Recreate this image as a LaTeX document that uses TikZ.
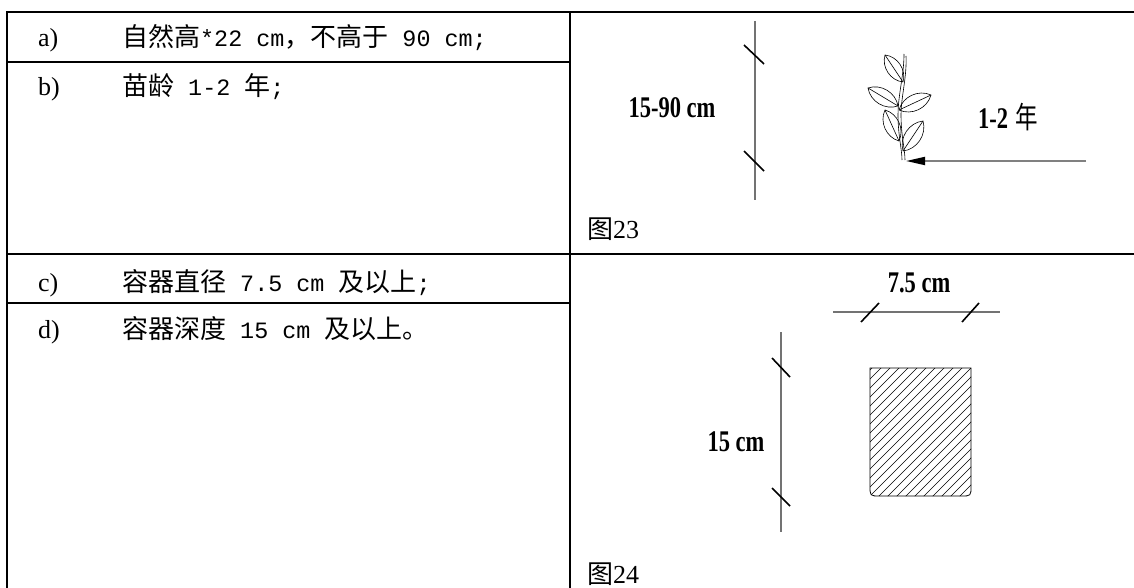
\documentclass[tikz,border=0pt]{standalone}
\usepackage{fontspec}
\usetikzlibrary{arrows.meta}
\setmainfont{Liberation Serif}
\newfontfamily\cjk{Noto Sans CJK SC}
\newfontfamily\mono[Scale=0.9]{Liberation Mono}
\tikzset{
  tline/.style={line width=1.3pt, black},
  lbl/.style={anchor=base west, inner sep=0pt, font=\fontsize{26}{30}\selectfont},
  figlbl/.style={anchor=base west, inner sep=0pt, font=\fontsize{26}{30}\selectfont},
  dimline/.style={line width=1.5pt, black!55},
  tickmark/.style={line width=1.6pt, black},
  dimlbl/.style={inner sep=0pt, font=\fontsize{30}{34}\selectfont\bfseries},
  leafline/.style={line width=0.6pt, draw=black},
  hatchline/.style={line width=0.5pt, black},
  arrline/.style={line width=1.8pt, black!50},
}
\newcommand\leafdraw[2]{\draw[leafline] #1 to[bend left=50] #2 to[bend left=50] #1; \draw[leafline] #1 -- #2;}
\begin{document}
\begin{tikzpicture}[x=1pt,y=-1pt]
\useasboundingbox (0,0) rectangle (1134,588);
% table
\coordinate (tl) at (7,12);
\coordinate (tr) at (1134,12);
\coordinate (bl) at (7,588);
\coordinate (ct) at (570,12);
\coordinate (cb) at (570,588);
\draw[tline] (bl) -- (tl) -- (tr);
\draw[tline] (ct) -- (cb);
\draw[tline] (7,62) -- (570,62);
\draw[tline] (7,254) -- (1134,254);
\draw[tline] (7,303) -- (570,303);
% row texts
\node[lbl] (la) at (38,47) {a)};
\node[lbl] (ta) at (122,47) {{\cjk 自然高}{\mono*22 cm}{\cjk ，不高于}{\mono\ 90 cm;}};
\node[lbl] (lb) at (38,96) {b)};
\node[lbl] (tb) at (122,96) {{\cjk 苗龄}{\mono\ 1-2 }{\cjk 年}{\mono;}};
\node[lbl] (lc) at (38,291) {c)};
\node[lbl] (tc) at (122,291) {{\cjk 容器直径}{\mono\ 7.5 cm }{\cjk 及以上}{\mono;}};
\node[lbl] (ld) at (38,338) {d)};
\node[lbl] (td) at (122,338) {{\cjk 容器深度}{\mono\ 15 cm }{\cjk 及以上。}};
% figure 23
\coordinate (v1t) at (755,21);
\coordinate (v1b) at (755,200);
\draw[dimline] (v1t) -- (v1b);
\draw[tickmark] (744,45) -- (764,64);
\draw[tickmark] (744,151) -- (764,171);
\node[dimlbl] (h1) at (672,108) {\scalebox{0.75}[1]{15-90 cm}};
% plant stem
\draw[leafline] (904,54) .. controls (904,75) and (898,95) .. (898,115) .. controls (898,135) and (902,150) .. (902,160);
\draw[leafline] (906,56) .. controls (907,77) and (901,97) .. (901,115) .. controls (901,135) and (905,150) .. (905,160);
\leafdraw{(903,82)}{(885,55)}
\leafdraw{(898,106)}{(868,88)}
\leafdraw{(899,110)}{(931,95)}
\leafdraw{(899,141)}{(885,110)}
\leafdraw{(903,151)}{(923,121)}
\coordinate (astart) at (1086,161);
\coordinate (aend) at (906,161);
\draw[arrline, -{Triangle[length=19pt,width=8pt,color=black]}] (astart) -- (aend);
\node[dimlbl] (yr) at (1008,117) {\scalebox{0.75}[1]{1-2\,\,{\cjk\mdseries 年}}};
\node[figlbl] (f23) at (587,238) {{\cjk 图}23};
% figure 24
\draw[dimline] (833,312) -- (1000,312);
\draw[tickmark] (861,322) -- (879,303);
\draw[tickmark] (962,322) -- (979,303);
\node[dimlbl] (w) at (919,283) {\scalebox{0.75}[1]{7.5 cm}};
\draw[dimline] (781,332) -- (781,532);
\draw[tickmark] (772,358) -- (790,377);
\draw[tickmark] (772,488) -- (790,506);
\node[dimlbl] (d15) at (736,442) {\scalebox{0.75}[1]{15 cm}};
\begin{scope}
\clip (870,368) -- (971,368) -- (971,486) .. controls (971,496) .. (961,496) -- (880,496) .. controls (870,496) .. (870,486) -- cycle;
\foreach \k in {0,9,...,240} { \draw[hatchline] (740+\k,500) -- ++(140,-140); }
\end{scope}
\draw[line width=0.8pt] (870,368) -- (971,368) -- (971,486) .. controls (971,496) .. (961,496) -- (880,496) .. controls (870,496) .. (870,486) -- cycle;
\node[figlbl] (f24) at (587,583) {{\cjk 图}24};
\end{tikzpicture}
\end{document}
